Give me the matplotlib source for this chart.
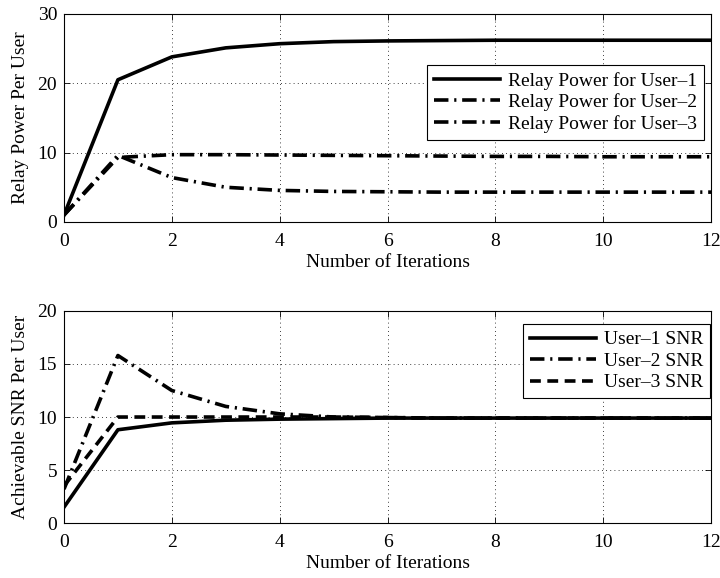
import matplotlib
matplotlib.use("Agg")
import matplotlib.pyplot as plt
from matplotlib.ticker import MultipleLocator

plt.rcParams['font.family'] = ['Liberation Serif', 'DejaVu Serif']
plt.rcParams['mathtext.fontset'] = 'stix'

iterations = list(range(13))

relay_user1 = [1.0, 20.5, 23.8, 25.1, 25.7, 26.0, 26.1, 26.15, 26.2, 26.2, 26.2, 26.2, 26.2]
relay_user2 = [1.0, 9.3, 9.7, 9.7, 9.65, 9.6, 9.55, 9.5, 9.45, 9.45, 9.4, 9.4, 9.4]
relay_user3 = [1.0, 9.6, 6.4, 5.0, 4.55, 4.4, 4.35, 4.3, 4.3, 4.3, 4.3, 4.3, 4.3]

snr_user1 = [1.5, 8.8, 9.45, 9.7, 9.8, 9.85, 9.9, 9.9, 9.9, 9.9, 9.9, 9.9, 9.9]
snr_user2 = [3.2, 15.8, 12.5, 11.0, 10.3, 10.0, 9.95, 9.9, 9.9, 9.9, 9.9, 9.9, 9.9]
snr_user3 = [3.5, 10.0, 10.0, 10.0, 10.0, 10.0, 9.95, 9.9, 9.9, 9.9, 9.9, 9.9, 9.9]

top_labels = ['Relay Power for User–1', 'Relay Power for User–2', 'Relay Power for User–3']
bot_labels = ['User–1 SNR', 'User–2 SNR', 'User–3 SNR']

fs = 14
lw = 2.6
dashdot = (0, (4, 1.6, 0.6, 1.6))
dashed = (0, (3, 1.8))

fig = plt.figure(figsize=(7.2, 5.78), dpi=100)
ax1 = fig.add_axes([0.0889, 0.616, 0.8986, 0.36])
ax2 = fig.add_axes([0.0889, 0.095, 0.8986, 0.367])

ax1.plot(iterations, relay_user1, color='black', lw=lw, ls='-', label=top_labels[0])
ax1.plot(iterations, relay_user2, color='black', lw=lw, ls=dashdot, label=top_labels[1])
ax1.plot(iterations, relay_user3, color='black', lw=lw, ls=dashdot, label=top_labels[2])
ax1.set_ylim(0, 30)
ax1.yaxis.set_major_locator(MultipleLocator(10))
ax1.set_ylabel('Relay Power Per User', fontsize=fs, labelpad=6)

ax2.plot(iterations, snr_user1, color='black', lw=lw, ls='-', label=bot_labels[0])
ax2.plot(iterations, snr_user2, color='black', lw=lw, ls=dashdot, label=bot_labels[1])
ax2.plot(iterations, snr_user3, color='black', lw=lw, ls=dashed, label=bot_labels[2])
ax2.set_ylim(0, 20)
ax2.yaxis.set_major_locator(MultipleLocator(5))
ax2.set_ylabel('Achievable SNR Per User', fontsize=fs, labelpad=6)

for ax in (ax1, ax2):
    ax.set_xlim(0, 12)
    ax.xaxis.set_major_locator(MultipleLocator(2))
    ax.set_xlabel('Number of Iterations', fontsize=fs, labelpad=3)
    ax.grid(True, color='black', ls=(0, (1, 4)), lw=0.6)
    ax.tick_params(direction='in', top=True, right=True, labelsize=fs, length=4, width=0.6)
    ax.tick_params(axis='x', pad=8)
    ax.tick_params(axis='y', pad=5)
    for s in ax.spines.values():
        s.set_linewidth(0.8)

leg1 = ax1.legend(loc='upper right', bbox_to_anchor=(0.989, 0.755), fontsize=fs,
                  handlelength=3.4, fancybox=False, edgecolor='black', framealpha=1,
                  borderpad=0.35, labelspacing=0.2, handletextpad=0.4, borderaxespad=0)
leg1.get_frame().set_linewidth(0.8)
leg2 = ax2.legend(loc='upper right', bbox_to_anchor=(0.998, 0.939), fontsize=fs,
                  handlelength=3.4, fancybox=False, edgecolor='black', framealpha=1,
                  borderpad=0.35, labelspacing=0.2, handletextpad=0.4, borderaxespad=0)
leg2.get_frame().set_linewidth(0.8)

fig.savefig('out.png', dpi=100)
